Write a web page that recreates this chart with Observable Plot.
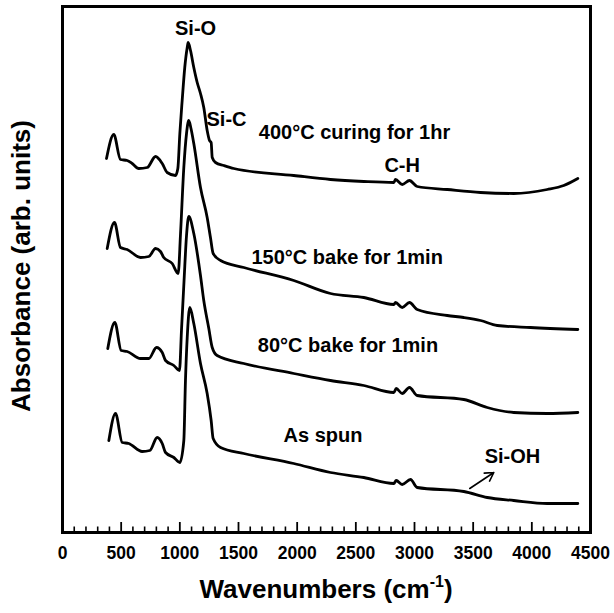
<!DOCTYPE html>
<html><head><meta charset="utf-8">
<script src="https://cdn.jsdelivr.net/npm/d3@7"></script>
<script src="https://cdn.jsdelivr.net/npm/@observablehq/plot@0.6"></script>
<style>body{margin:0;background:#fff} svg{display:block}</style>
</head><body><div id="chart"></div>
<script>
// ---- data (absorbance in arbitrary units, curves already stacked) ----
const seriesNames = ["400°C curing for 1hr", "150°C bake for 1min", "80°C bake for 1min", "As spun"];

const wn400  = [375, 437, 494, 551, 594, 650, 722, 793, 850, 892, 963, 983, 1000, 1020, 1042, 1063, 1071, 1091, 1119, 1148, 1176, 1204, 1233, 1253, 1267, 1276, 1304, 1375, 1460, 1971, 2284, 2568, 2824, 2838, 2895, 2957, 3023, 3279, 3563, 3846, 4131, 4272, 4392];
const abs400 = [3.74, 3.98, 3.73, 3.72, 3.69, 3.64, 3.65, 3.76, 3.69, 3.60, 3.57, 3.64, 3.99, 4.32, 4.65, 4.85, 4.90, 4.82, 4.65, 4.50, 4.39, 4.25, 4.02, 3.92, 3.90, 3.75, 3.70, 3.67, 3.64, 3.57, 3.53, 3.51, 3.50, 3.53, 3.48, 3.52, 3.46, 3.43, 3.40, 3.39, 3.43, 3.47, 3.54];

const wn150  = [381, 443, 494, 551, 665, 736, 793, 835, 863, 935, 986, 1006, 1034, 1057, 1076, 1095, 1119, 1176, 1233, 1261, 1284, 1347, 1545, 1971, 2284, 2568, 2824, 2838, 2895, 2957, 3023, 3279, 3420, 3563, 3705, 3989, 4392];
const abs150 = [2.84, 3.10, 2.85, 2.83, 2.75, 2.76, 2.84, 2.81, 2.75, 2.69, 2.59, 2.99, 3.65, 3.99, 4.12, 4.04, 3.89, 3.45, 3.15, 2.95, 2.79, 2.72, 2.65, 2.52, 2.39, 2.35, 2.28, 2.30, 2.25, 2.30, 2.23, 2.17, 2.15, 2.12, 2.07, 2.05, 2.03];

const wn80   = [386, 446, 500, 551, 665, 736, 801, 850, 878, 949, 997, 1014, 1036, 1057, 1076, 1119, 1176, 1204, 1247, 1276, 1318, 1545, 1971, 2284, 2568, 2824, 2844, 2895, 2957, 3023, 3420, 3620, 3846, 4131, 4392];
const abs80  = [1.84, 2.10, 1.82, 1.81, 1.74, 1.74, 1.85, 1.80, 1.72, 1.67, 1.62, 2.02, 2.52, 2.97, 3.16, 2.99, 2.57, 2.32, 2.04, 1.85, 1.77, 1.69, 1.59, 1.52, 1.47, 1.40, 1.44, 1.39, 1.45, 1.37, 1.33, 1.25, 1.20, 1.19, 1.20];

const wnSpun  = [395, 452, 509, 565, 679, 744, 807, 850, 878, 949, 1000, 1034, 1048, 1063, 1085, 1119, 1176, 1233, 1267, 1284, 1347, 1545, 1971, 2284, 2568, 2824, 2844, 2895, 2966, 3023, 3420, 3620, 3846, 4131, 4392];
const absSpun = [0.92, 1.19, 0.90, 0.89, 0.81, 0.82, 0.95, 0.89, 0.80, 0.75, 0.70, 0.92, 1.52, 1.95, 2.25, 2.09, 1.69, 1.39, 1.12, 0.94, 0.85, 0.79, 0.69, 0.60, 0.55, 0.49, 0.52, 0.48, 0.53, 0.45, 0.41, 0.35, 0.32, 0.29, 0.29];

// series label anchors
const labelWn  = [2489, 2426, 2433, 2220];
const labelAbs = [4.00, 2.75, 1.87, 0.97];

// band annotations
const bandNames = ["Si-O", "Si-C", "C-H", "Si-OH"];
const bandWn    = [1134, 1398, 2895, 3835];
const bandAbs   = [5.04, 4.13, 3.67, 0.76];

// Si-OH arrow
const arrowFrom = [3471, 0.44];
const arrowTo   = [3676, 0.60];

// x ticks
const majorTicks = [0, 500, 1000, 1500, 2000, 2500, 3000, 3500, 4000, 4500];
const minorTicks = [100, 200, 300, 400, 600, 700, 800, 900, 1100, 1200, 1300, 1400, 1600, 1700, 1800, 1900, 2100, 2200, 2300, 2400, 2600, 2700, 2800, 2900, 3100, 3200, 3300, 3400, 3600, 3700, 3800, 3900, 4100, 4200, 4300, 4400];

// ---- build table ----
const xs = [wn400, wn150, wn80, wnSpun];
const ys = [abs400, abs150, abs80, absSpun];
const table = [];
seriesNames.forEach((s, i) => xs[i].forEach((w, j) => table.push({series: s, wn: w, abs: ys[i][j]})));
const labels = seriesNames.map((s, i) => ({text: s, wn: labelWn[i], abs: labelAbs[i]}));
const bands = bandNames.map((s, i) => ({text: s, wn: bandWn[i], abs: bandAbs[i]}));

const FONT = "'Liberation Sans', Arial, Helvetica, sans-serif";

const chart = Plot.plot({
  width: 614,
  height: 613,
  marginLeft: 62,
  marginRight: 24,
  marginTop: 6,
  marginBottom: 81,
  style: {fontFamily: FONT, background: "#fff", color: "#000"},
  x: {domain: [0, 4500]},
  y: {domain: [0, 5.26], axis: null},
  marks: [
    Plot.line(table, {x: "wn", y: "abs", z: "series", stroke: "#000", strokeWidth: 2.8, strokeLinejoin: "round", strokeLinecap: "round", curve: "monotone-x"}),
    Plot.ruleX(minorTicks, {x: d => d, y1: 0, y2: 0.055, stroke: "#000", strokeWidth: 1.6}),
    Plot.ruleX(majorTicks, {x: d => d, y1: 0, y2: 0.10, stroke: "#000", strokeWidth: 1.8}),
    Plot.frame({stroke: "#000", strokeWidth: 3}),
    Plot.axisX(majorTicks, {tickSize: 0, tickPadding: 14, tickFormat: d => String(d), fontSize: 17.5, fontWeight: "bold", fill: "#000"}),
    Plot.text(labels, {x: "wn", y: "abs", text: "text", fontSize: 20, fontWeight: "bold", fill: "#000", textAnchor: "middle", lineAnchor: "middle"}),
    Plot.text(bands, {x: "wn", y: "abs", text: "text", fontSize: 20, fontWeight: "bold", fill: "#000", textAnchor: "middle", lineAnchor: "middle"}),
    Plot.arrow([{x1: arrowFrom[0], y1: arrowFrom[1], x2: arrowTo[0], y2: arrowTo[1]}], {x1: "x1", y1: "y1", x2: "x2", y2: "y2", stroke: "#000", strokeWidth: 1.6, headLength: 9})
  ]
});

// axis titles with superscript
const svg = d3.select(chart);
const xt = svg.append("text")
  .attr("x", 326).attr("y", 598)
  .attr("text-anchor", "middle")
  .attr("font-family", FONT).attr("font-weight", "bold").attr("font-size", 26).attr("fill", "#000");
xt.append("tspan").text("Wavenumbers (cm");
xt.append("tspan").attr("font-size", 16).attr("dy", -11).text("-1");
xt.append("tspan").attr("dy", 11).text(")");

svg.append("text")
  .attr("transform", "translate(29.5,266) rotate(-90)")
  .attr("text-anchor", "middle")
  .attr("font-family", FONT).attr("font-weight", "bold").attr("font-size", 26).attr("fill", "#000")
  .text("Absorbance (arb. units)");

document.getElementById("chart").appendChild(chart);
</script>
</body></html>
